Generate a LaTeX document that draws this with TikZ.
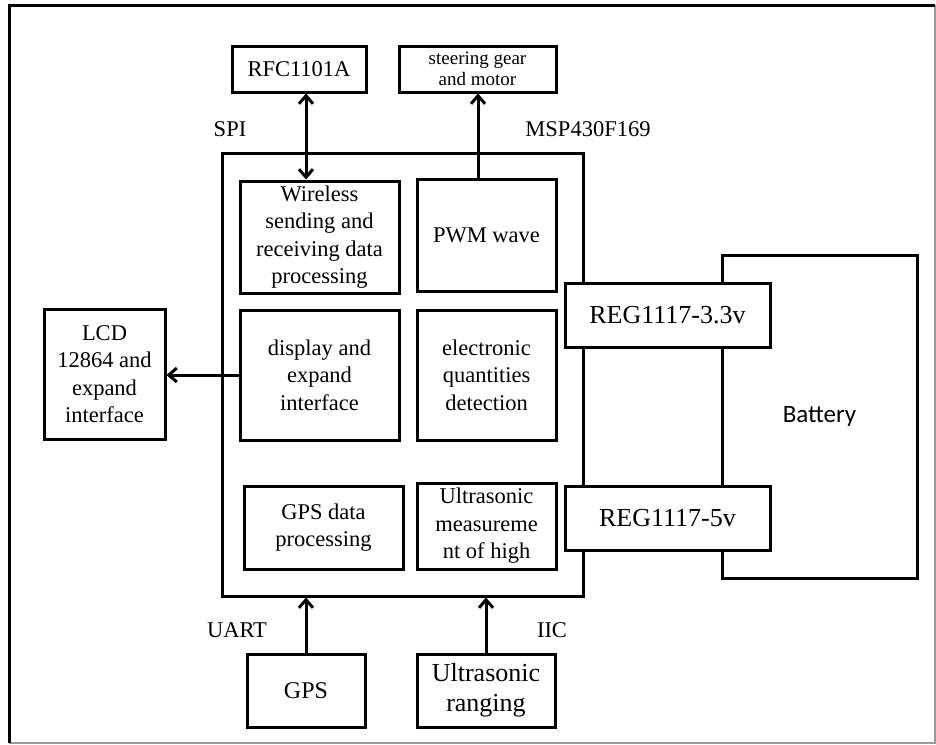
\documentclass[tikz,border=0pt]{standalone}
\usepackage{fontspec}
\setmainfont{Liberation Serif}
\newfontfamily\calibri{Carlito}
\usetikzlibrary{arrows.meta}
\begin{document}
\begin{tikzpicture}[x=1pt,y=-1pt,
  box/.style={draw,line width=3pt,fill=white,inner sep=0pt,align=center,font=\fontsize{22.5}{27.5}\selectfont},
  lbl/.style={inner sep=0pt,font=\fontsize{22.5}{27}\selectfont},
  arr/.style={line width=3pt,-{Straight Barb[length=8pt,width=14pt]}},
  darr/.style={line width=3pt,{Straight Barb[length=8pt,width=14pt]}-{Straight Barb[length=8pt,width=14pt]}}]
\useasboundingbox (0,0) rectangle (936,744);
% frame
\draw[black!40,line width=1.5pt] (935,5) -- (935,743) -- (9,743);
\draw[line width=3pt] (9,743) -- (9,5) -- (935,5);
% MCU
\node[draw,line width=3pt,minimum width=361pt,minimum height=443pt,inner sep=0pt] (mcu) at (402.5,374.5) {};
% battery
\node[draw,line width=3pt,minimum width=195pt,minimum height=323pt,inner sep=0pt,font=\calibri\fontsize{25}{30}\selectfont] (bat) at (819.5,416.5) {Battery};
% top boxes
\node[box,minimum width=134pt,minimum height=46pt] (rfc) at (299,69) {RFC1101A};
\node[box,minimum width=157pt,minimum height=46pt,font=\fontsize{19}{21}\selectfont] (steer) at (477.5,69) {steering gear\\and motor};
\node[lbl] (spi) at (230,129) {SPI};
\node[lbl] (msp) at (588,129) {MSP430F169};
% inner boxes
\node[box,minimum width=159pt,minimum height=112pt] (wl) at (319.5,237) {Wireless\\sending and\\receiving data\\processing};
\node[box,minimum width=139pt,minimum height=112pt] (pwm) at (486.5,235) {PWM wave};
\node[box,minimum width=159pt,minimum height=130pt] (disp) at (319.5,375) {display and\\expand\\interface};
\node[box,minimum width=139pt,minimum height=130pt] (elec) at (486.5,375) {electronic\\quantities\\detection};
\node[box,minimum width=159pt,minimum height=83pt] (gpsd) at (323.5,527.5) {GPS data\\processing};
\node[box,minimum width=139pt,minimum height=86pt] (ultm) at (486.5,526) {Ultrasonic\\measureme\\nt of high};
% LCD
\node[box,minimum width=121pt,minimum height=130pt] (lcd) at (104.5,374) {LCD\\12864 and\\expand\\interface};
% regulators
\node[box,minimum width=205pt,minimum height=64pt,font=\fontsize{26}{30}\selectfont] (reg3) at (667.5,315) {REG1117-3.3v};
\node[box,minimum width=205pt,minimum height=64pt,font=\fontsize{26}{30}\selectfont] (reg5) at (667.5,518) {REG1117-5v};
% bottom
\node[lbl] (uart) at (237,630) {UART};
\node[lbl] (iic) at (552,630) {IIC};
\node[box,minimum width=118pt,minimum height=73pt,font=\fontsize{24}{29}\selectfont] (gps) at (306,690.5) {GPS};
\node[box,minimum width=138pt,minimum height=73pt,font=\fontsize{26}{30}\selectfont] (ulr) at (486,690.5) {Ultrasonic\\ranging};
% connectors
\coordinate (xa) at (306,0);
\coordinate (xb) at (478,0);
\draw[darr] (rfc.south -| xa) -- (wl.north -| xa);
\draw[arr] (pwm.north -| xb) -- (steer.south -| xb);
\draw[arr] (disp.west) -- (disp.west -| lcd.east);
\draw[arr] (gps.north) -- (gps.north |- mcu.south);
\draw[arr] (ulr.north) -- (ulr.north |- mcu.south);
\end{tikzpicture}
\end{document}
